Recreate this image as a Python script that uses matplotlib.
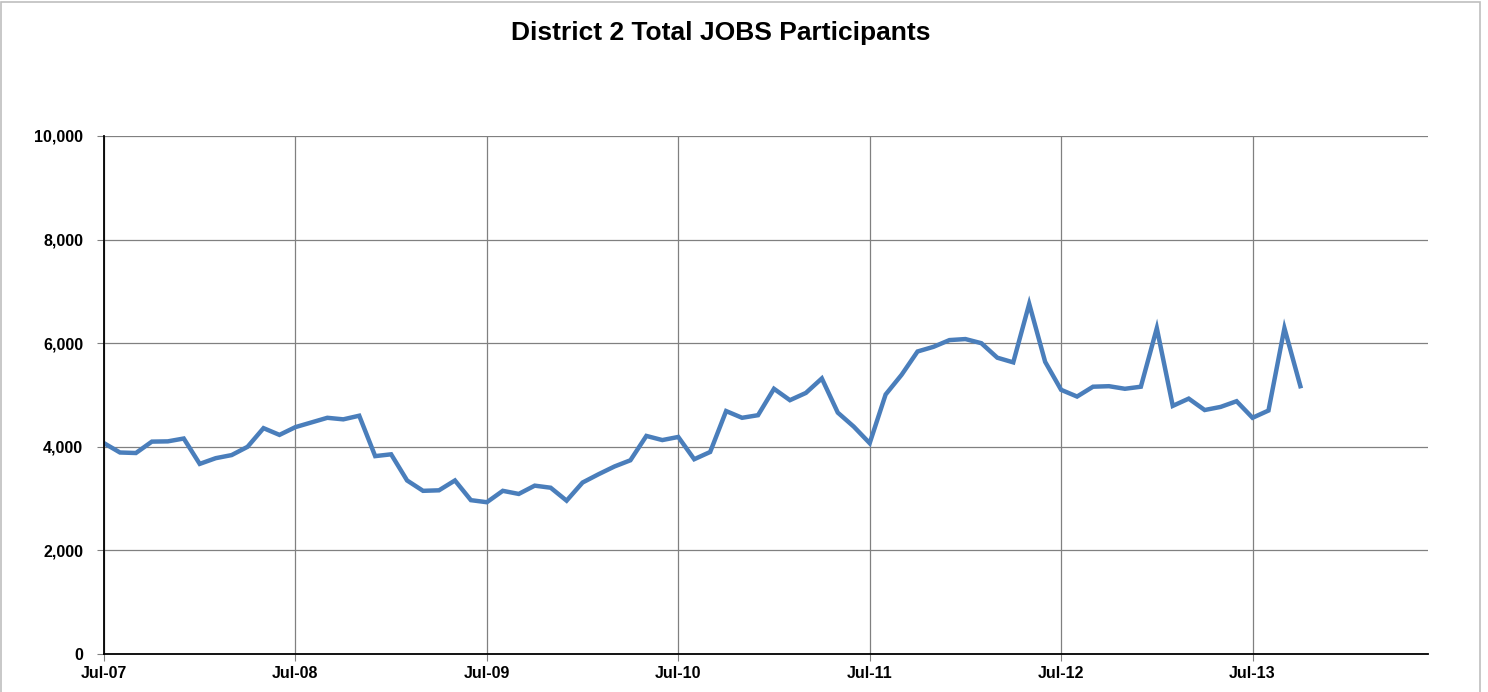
import matplotlib
matplotlib.use("Agg")
import matplotlib.pyplot as plt
from matplotlib.patches import Rectangle
from matplotlib.ticker import FuncFormatter

plt.rcParams['font.family'] = ['Liberation Sans', 'DejaVu Sans']

# monthly participants, Jul-07 .. Oct-13
participants = [4070, 3890, 3880, 4100, 4105, 4160, 3670, 3780, 3840, 4000,
                4360, 4230, 4380, 4470, 4560, 4530, 4600, 3820, 3855, 3350,
                3150, 3160, 3350, 2970, 2930, 3150, 3090, 3250, 3210, 2960,
                3310, 3470, 3620, 3740, 4210, 4130, 4190, 3760, 3900, 4690,
                4560, 4610, 5120, 4900, 5040, 5320, 4660, 4390, 4070, 5010,
                5390, 5840, 5930, 6060, 6080, 6000, 5720, 5630, 6760, 5640,
                5100, 4970, 5160, 5170, 5120, 5160, 6290, 4790, 4930, 4710,
                4770, 4880, 4560, 4700, 6290, 5170]
year_labels = ['Jul-07', 'Jul-08', 'Jul-09', 'Jul-10', 'Jul-11', 'Jul-12', 'Jul-13']

months = list(range(len(participants)))

fig = plt.figure(figsize=(14.88, 6.92), dpi=100)
ax = fig.add_axes([104 / 1488, 1 - 654 / 692, (1428 - 104) / 1488, (654 - 136) / 692])

ax.plot(months, participants, color='#4A7EBB', lw=3.2, solid_joinstyle='miter')

ax.set_xlim(0, 83)
ax.set_ylim(0, 10000)
ax.set_xticks([12 * i for i in range(len(year_labels))])
ax.set_xticklabels(year_labels)
ax.set_yticks(range(0, 10001, 2000))
ax.yaxis.set_major_formatter(FuncFormatter(lambda v, p: f'{int(v):,}'))
ax.grid(True, color='#808080', lw=0.9)
ax.set_axisbelow(True)

for s in ['top', 'right']:
    ax.spines[s].set_visible(False)
for s in ['left', 'bottom']:
    ax.spines[s].set_color('black')
    ax.spines[s].set_linewidth(1.3)

ax.tick_params(axis='both', length=5, width=0.8, color='#808080', labelsize=11.5)
ax.tick_params(axis='y', pad=10)
ax.tick_params(axis='x', pad=4)
for lbl in ax.get_xticklabels() + ax.get_yticklabels():
    lbl.set_fontweight('bold')

fig.text(721 / 1488, 1 - 33 / 692, 'District 2 Total JOBS Participants',
         ha='center', va='center', fontsize=19, fontweight='bold')

fig.patches.append(Rectangle((1 / 1488, -0.01), 1479 / 1488, 1 - 2 / 692 + 0.01,
                             transform=fig.transFigure, fill=False,
                             edgecolor='#BFBFBF', lw=1.2))

fig.savefig('out.png', dpi=100)
